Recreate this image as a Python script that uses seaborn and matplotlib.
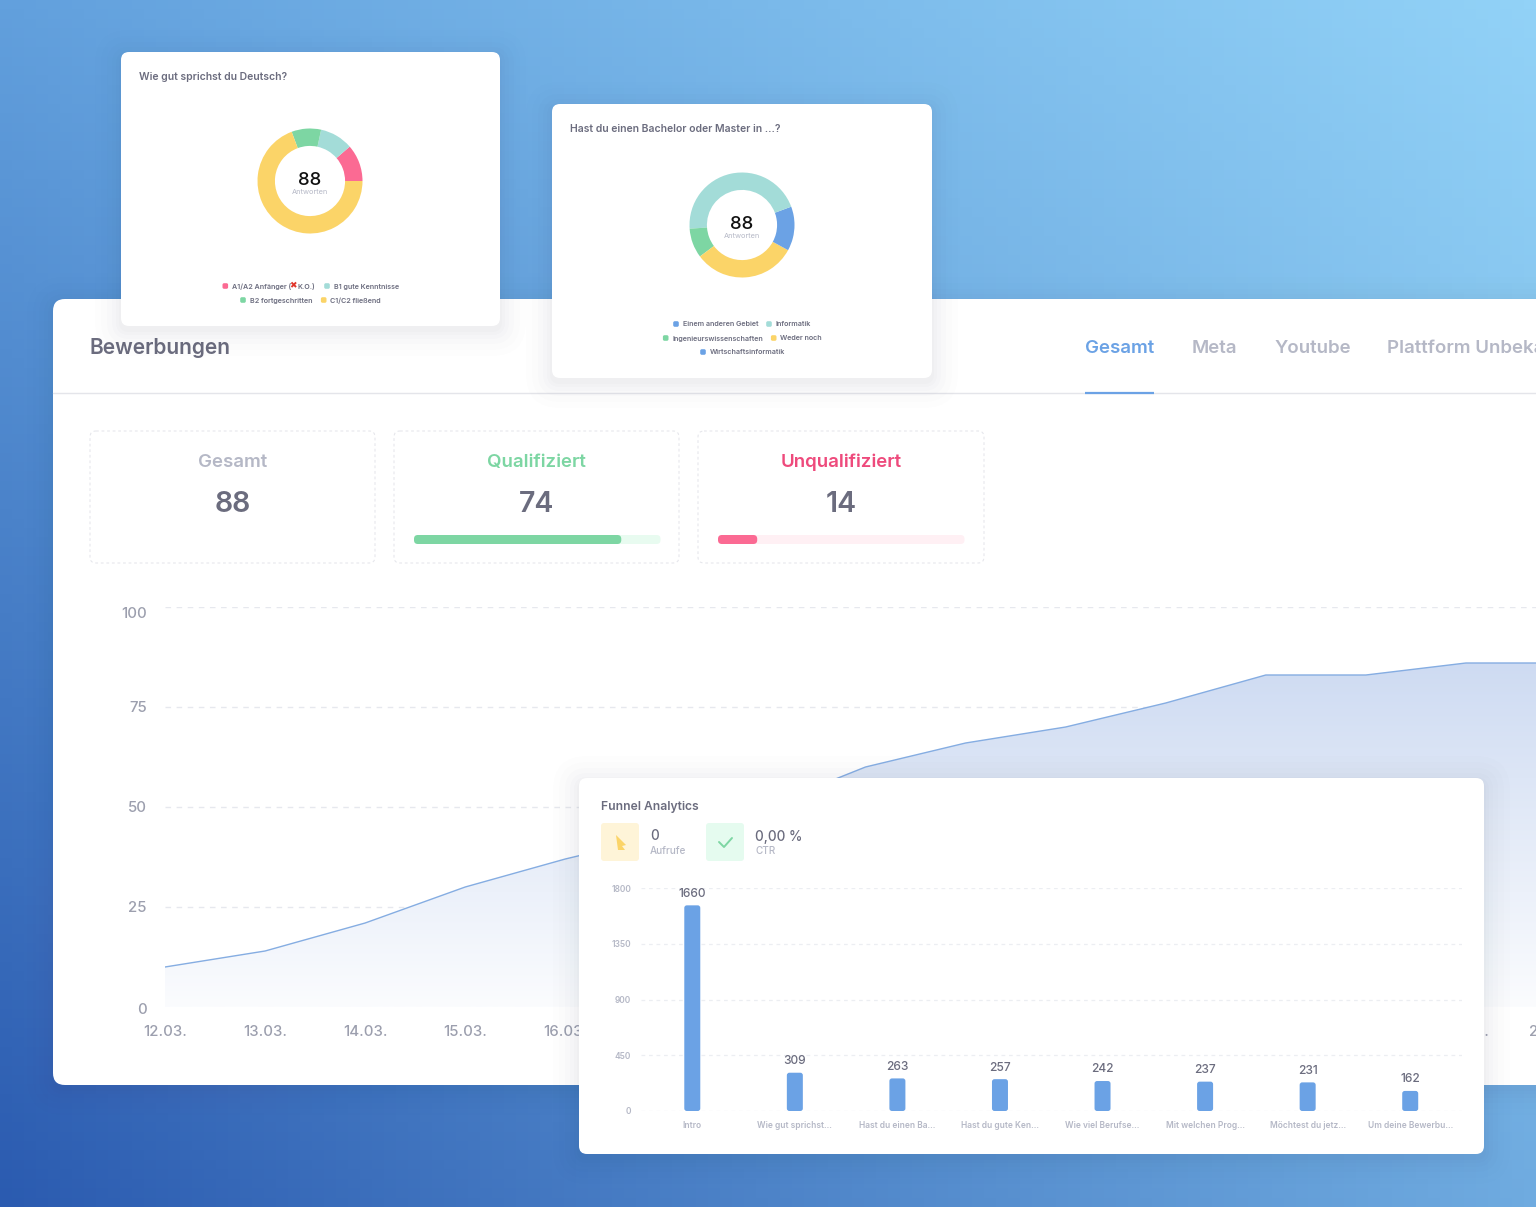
import matplotlib
matplotlib.use("Agg")
import matplotlib.pyplot as plt
import numpy as np
import pandas as pd
import seaborn as sns
from matplotlib.patches import FancyBboxPatch, Polygon
from matplotlib.transforms import ScaledTranslation

# Daten
days = ["12.03.", "13.03.", "14.03.", "15.03.", "16.03.", "17.03.", "18.03.", "19.03.",
        "20.03.", "21.03.", "22.03.", "23.03.", "24.03.", "25.03.", "26.03."]
applications = [10, 14, 21, 30, 37, 43, 50, 60, 66, 70, 76, 83, 83, 86, 86]

funnel_steps = ["Intro", "Wie gut sprichst...", "Hast du einen Ba...", "Hast du gute Ken...",
                "Wie viel Berufse...", "Mit welchen Prog...", "Möchtest du jetz...", "Um deine Bewerbu..."]
funnel_values = [1660, 309, 263, 257, 242, 237, 231, 162]

german_labels = ["A1/A2 Anfänger", "B1 gute Kenntnisse", "B2 fortgeschritten", "C1/C2 fließend"]
german_values = [10, 9, 8, 61]
degree_labels = ["Einem anderen Gebiet", "Informatik", "Ingenieurswissenschaften", "Weder noch", "Wirtschaftsinformatik"]
degree_values = [5, 40, 8, 28, 7]

total = 88
qualified = 74
unqualified = 14

PINK, TEAL, GREEN, YELLOW, BLUE = "#fb6a93", "#a3dcd8", "#7dd6a3", "#fbd468", "#6ba2e5"
DARK, GREY, LIGHT = "#6b6c7e", "#9c9fae", "#b5b8c6"
FONT = "Inter"

sns.set_theme(style="white")
plt.rcParams["font.family"] = [FONT, "DejaVu Sans"]

W, H = 1536, 1207
fig = plt.figure(figsize=(W / 100, H / 100), dpi=100)


def px_axes(left, top, right, bottom, z):
    a = fig.add_axes([left / W, 1 - bottom / H, (right - left) / W, (bottom - top) / H], zorder=z)
    a.patch.set_alpha(0)
    return a


def canvas(z):
    a = px_axes(0, 0, W, H, z)
    a.set_xlim(0, W)
    a.set_ylim(H, 0)
    a.axis("off")
    return a


def card(a, x0, y0, x1, y1, r=8, shadow=True):
    if shadow:
        for grow, al in [(26, .006), (20, .008), (14, .010), (9, .012), (5, .014), (2, .016)]:
            a.add_patch(FancyBboxPatch((x0 - grow, y0 - grow + 4), x1 - x0 + 2 * grow, y1 - y0 + 2 * grow,
                                       boxstyle=f"round,pad=0,rounding_size={r + grow}",
                                       fc="#3a4a6a", ec="none", alpha=al))
    a.add_patch(FancyBboxPatch((x0, y0), x1 - x0, y1 - y0, boxstyle=f"round,pad=0,rounding_size={r}",
                               fc="white", ec="none"))


def label(a, x, y, s, px, color=DARK, ha="left", weight="medium", **kw):
    # va center sitzt bei Inter etwas zu hoch
    return a.text(x, y + 1.5, s, fontsize=px * 0.72, color=color, ha=ha, va="center", fontweight=weight, **kw)


def rounded_bars(a, r, aspect, color):
    # Rechtecke von seaborn durch abgerundete ersetzen, gleiche Geometrie
    for b in list(a.patches):
        a.add_patch(FancyBboxPatch((b.get_x(), b.get_y()), b.get_width(), b.get_height(),
                                   boxstyle=f"round,pad=0,rounding_size={r}", mutation_aspect=aspect,
                                   fc=color, ec="none", zorder=3))
        b.set_visible(False)


# Hintergrund
bg = canvas(0)
u, v = np.meshgrid(np.linspace(0, 1, 128), np.linspace(0, 1, 128))
corners = [np.array(matplotlib.colors.to_rgb(c)) for c in ("#62a0dd", "#92d2f7", "#2b5bb0", "#6fabe0")]
grad = np.zeros((128, 128, 3))
for i in range(3):
    grad[..., i] = (corners[0][i] * (1 - u) * (1 - v) + corners[1][i] * u * (1 - v)
                    + corners[2][i] * (1 - u) * v + corners[3][i] * u * v)
bg.imshow(grad, extent=(0, W, H, 0), aspect="auto", zorder=0)
bg.set_xlim(0, W)
bg.set_ylim(H, 0)

# Hauptkarte
card(bg, 53, 299, 1600, 1085, r=12)
bg.plot([53, W], [393, 393], color="#e4e5ea", lw=1)
bg.plot([1085, 1154], [393, 393], color=BLUE, lw=1.6, solid_capstyle="butt")
label(bg, 89.5, 347, "Bewerbungen", 21, weight="semibold")
label(bg, 1085, 347, "Gesamt", 18.7, color=BLUE, weight="semibold")
label(bg, 1192, 347, "Meta", 18.7, color=LIGHT, weight="semibold")
label(bg, 1275, 347, "Youtube", 18.7, color=LIGHT, weight="semibold")
label(bg, 1387, 347, "Plattform Unbekannt", 18.7, color=LIGHT, weight="semibold")

# Kennzahlen
stats = [(90, 375, "Gesamt", total, LIGHT), (394, 679, "Qualifiziert", qualified, GREEN),
         (698, 984, "Unqualifiziert", unqualified, "#ee4a7c")]
for x0, x1, name, val, col in stats:
    bg.add_patch(FancyBboxPatch((x0, 431), x1 - x0, 132, boxstyle="round,pad=0,rounding_size=6",
                                fc="white", ec="#e6e7ec", lw=0.8, ls=(0, (2.5, 2.5))))
    label(bg, (x0 + x1) / 2, 461, name, 18.7, color=col, ha="center", weight="semibold")
    label(bg, (x0 + x1) / 2, 503, str(val), 28.5, ha="center", weight="semibold")

for x0, val, col, track in [(414, qualified, GREEN, "#e8fbf0"), (718, unqualified, PINK, "#fff0f4")]:
    ax_p = px_axes(x0, 535, x0 + 246.5, 544, 1)
    sns.barplot(x=[val], y=[0], orient="h", ax=ax_p, color=col, width=1, saturation=1)
    ax_p.set_xlim(0, total)
    ax_p.set_ylim(0.5, -0.5)
    ax_p.axis("off")
    rounded_bars(ax_p, 1.4, 0.311, col)
    ax_p.add_patch(FancyBboxPatch((0, -0.5), total, 1, boxstyle="round,pad=0,rounding_size=1.4",
                                  mutation_aspect=0.311, fc=track, ec="none", zorder=1))

# Flächendiagramm
ax = px_axes(165, 607, 1566, 1007, 1)
df = pd.DataFrame({"x": np.arange(len(days)), "n": applications})
sns.lineplot(data=df, x="x", y="n", ax=ax, color="#85ade2", lw=1, zorder=3, errorbar=None)
area = ax.fill_between(df["x"], df["n"], 0, color="none")
ramp = np.linspace(0, 1, 256).reshape(-1, 1, 1)
top_c, low_c = np.array(matplotlib.colors.to_rgb("#cedbf2")), np.array(matplotlib.colors.to_rgb("#fbfcfe"))
img = ax.imshow(top_c * (1 - ramp) + low_c * ramp, extent=(0, 14, 0, 86), aspect="auto", zorder=2)
img.set_clip_path(area.get_paths()[0], ax.transData)
ax.set_xlim(0, 14)
ax.set_ylim(0, 100)
ax.set_yticks([0, 25, 50, 75, 100])
ax.set_xticks(df["x"], days)
ax.set_xlabel("")
ax.set_ylabel("")
ax.grid(axis="y", color="#e6e8ee", lw=1, ls=(0, (4, 4)))
ax.set_axisbelow(True)
ax.tick_params(axis="both", length=0, labelsize=15 * 0.72, labelcolor=GREY)
ax.tick_params(axis="x", pad=13)
ax.tick_params(axis="y", pad=13)
for t in ax.get_xticklabels() + ax.get_yticklabels():
    t.set_fontweight("medium")
# letzte Datumsbeschriftung und die 100 sitzen im Original versetzt
last = ax.get_xticklabels()[-1]
last.set_transform(last.get_transform() + ScaledTranslation(-13 / 100, 0, fig.dpi_scale_trans))
for t in ax.get_yticklabels():
    off = {"100": -5, "0": -1}.get(t.get_text(), 0)
    t.set_transform(t.get_transform() + ScaledTranslation(0, off / 100, fig.dpi_scale_trans))
sns.despine(ax=ax, left=True, bottom=True)

# schwebende Karten
front = canvas(2)
card(front, 121, 52, 500, 326)
card(front, 552, 104, 932, 378)
card(front, 579, 778, 1484, 1154)

label(front, 139, 76, "Wie gut sprichst du Deutsch?", 10.4, weight="semibold")
label(front, 570, 128, "Hast du einen Bachelor oder Master in ...?", 10.4, weight="semibold")

for cx, cy, vals, cols in [(310, 181, german_values, [PINK, TEAL, GREEN, YELLOW]),
                           (742, 225, degree_values, [BLUE, TEAL, GREEN, YELLOW, BLUE])]:
    ax_d = px_axes(cx - 52.5, cy - 52.5, cx + 52.5, cy + 52.5, 3)
    ax_d.pie(vals, colors=cols, startangle=0, counterclock=True, radius=1,
             wedgeprops=dict(width=0.332, edgecolor="none"))
    ax_d.set_xlim(-1, 1)
    ax_d.set_ylim(-1, 1)
    label(front, cx, cy - 2, str(total), 18.5, color="#111111", ha="center")
    label(front, cx, cy + 9.5, "Antworten", 7.4, color=LIGHT, ha="center", weight="normal")

legend_items = [
    (225.3, 286, german_labels[0] + " (", PINK), (327, 286, german_labels[1], TEAL),
    (243, 300, german_labels[2], GREEN), (323.7, 300, german_labels[3], YELLOW),
    (676, 324, degree_labels[0], BLUE), (769, 324, degree_labels[1], TEAL),
    (665.7, 338, degree_labels[2], GREEN), (773.7, 338, degree_labels[3], YELLOW),
    (703, 352, degree_labels[4], BLUE),
]
for mx, my, txt, col in legend_items:
    front.add_patch(FancyBboxPatch((mx - 2.8, my - 2.8), 5.6, 5.6, boxstyle="round,pad=0,rounding_size=1.6",
                                   fc=col, ec="none"))
    label(front, mx + 6.7, my - 1, txt, 7.15, weight="semibold")
front.text(292.5, 286, "✖", fontsize=6.5, color="#e0352b", ha="center", va="center", family="DejaVu Sans")
label(front, 297.5, 285, "K.O.)", 7.15, weight="semibold")

# Funnel
label(front, 601, 805.5, "Funnel Analytics", 12.1, weight="semibold")
front.add_patch(FancyBboxPatch((601, 823), 38, 38, boxstyle="round,pad=0,rounding_size=3", fc="#fef4d8", ec="none"))
front.add_patch(FancyBboxPatch((706, 823), 38, 38, boxstyle="round,pad=0,rounding_size=3", fc="#e5fbef", ec="none"))
front.add_patch(Polygon([(616, 835), (626, 845), (622, 846), (625, 850), (618, 850)], fc=YELLOW, ec="none"))
front.plot([719, 724, 732], [842, 847, 838], color=GREEN, lw=1.4)
label(front, 650, 835, "0", 13.6)
label(front, 650, 849, "Aufrufe", 10, color=LIGHT)
label(front, 755, 835, "0,00 %", 13.6)
label(front, 755, 849, "CTR", 10, color=LIGHT)

ax_f = px_axes(641, 888, 1461.5, 1111, 3)
fdf = pd.DataFrame({"step": funnel_steps, "views": funnel_values})
sns.barplot(data=fdf, x="step", y="views", ax=ax_f, color=BLUE, width=0.156, saturation=1)
ax_f.set_ylim(0, 1800)
ax_f.set_xlim(-0.5, 7.5)
ax_f.set_yticks([0, 450, 900, 1350, 1800])
for c in ax_f.containers:
    ax_f.bar_label(c, fmt="%d", padding=4, fontsize=12 * 0.72, color=DARK, fontweight="medium")
rounded_bars(ax_f, 0.025, 1800 / 223 * 102.6, BLUE)
ax_f.set_xlabel("")
ax_f.set_ylabel("")
ax_f.grid(axis="y", color="#eceef2", lw=0.9, ls=(0, (3, 3)))
ax_f.set_axisbelow(True)
ax_f.tick_params(axis="both", length=0, labelsize=8.4 * 0.72, labelcolor=LIGHT)
ax_f.tick_params(axis="x", pad=7.5)
ax_f.tick_params(axis="y", pad=7)
for t in ax_f.get_xticklabels() + ax_f.get_yticklabels():
    t.set_fontweight("semibold")
sns.despine(ax=ax_f, left=True, bottom=True)

fig.savefig("out.png", dpi=100)
